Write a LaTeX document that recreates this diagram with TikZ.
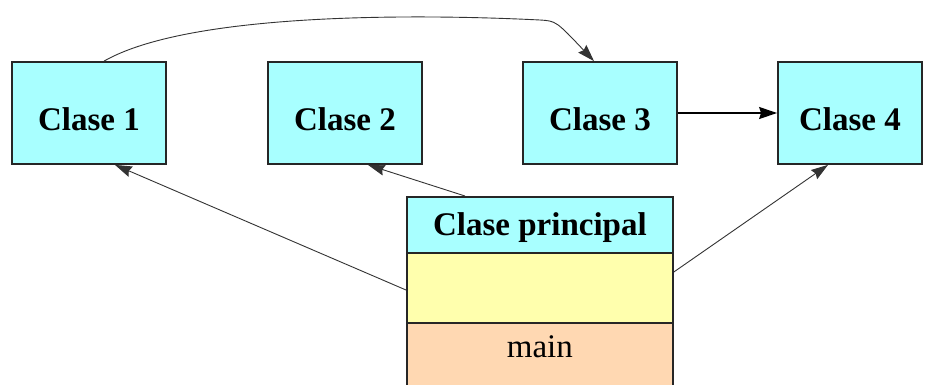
\documentclass[tikz,border=0pt]{standalone}
\usepackage{fontspec}
\setmainfont{Liberation Serif}
\usetikzlibrary{arrows.meta}
\definecolor{classcyan}{HTML}{A8FFFF}
\definecolor{attryellow}{HTML}{FFFFAD}
\definecolor{methodorange}{HTML}{FFD8B2}
\definecolor{edgegray}{HTML}{333333}
\tikzset{
  classbox/.style={draw=black!85, line width=1.8pt, fill=classcyan,
    minimum width=154pt, minimum height=102pt, inner sep=0pt,
    text height=35pt, text depth=0pt,
    font=\fontsize{33}{36}\selectfont\bfseries},
  part/.style={draw=black!85, line width=1.8pt, inner sep=0pt,
    minimum width=266pt, anchor=north west},
  link/.style={draw=edgegray, line width=0.9pt,
    -{Stealth[length=17pt,width=11pt,inset=2pt]}},
  strong link/.style={draw=black, line width=1.6pt,
    -{Stealth[length=18pt,width=12pt,inset=2pt]}}
}
\begin{document}
\begin{tikzpicture}[x=1pt,y=-1pt]
  \useasboundingbox (0,0) rectangle (925,384);
  \clip (0,0) rectangle (925,384);
  \fill[white] (0,0) rectangle (925,384);

  % the four collaborating classes
  \node[classbox] (c1) at (89,113) {Clase 1};
  \node[classbox] (c2) at (345,113) {Clase 2};
  \node[classbox] (c3) at (600,113) {Clase 3};
  \node[classbox, minimum width=144pt] (c4) at (850,113) {Clase 4};

  % main class: name, attributes and methods compartments
  \node[part, fill=classcyan, minimum height=56pt, text height=22pt, text depth=0pt,
        font=\fontsize{33}{36}\selectfont\bfseries] (cpname) at (406,196) {Clase principal};
  \node[part, fill=attryellow, minimum height=70pt] (cpattr) at (406,252) {};
  \node[part, fill=methodorange, minimum height=80pt] (cpops) at (406,322) {};
  \node[font=\fontsize{33}{36}\selectfont, anchor=base] (mainop) at ([yshift=-35pt]cpops.north) {main};

  % dependencies
  \coordinate (bend) at (540,20);
  \draw[link] ([xshift=15pt]c1.north) .. controls (190,12) and (420,14) .. (bend)
              .. controls (556,21) .. ([xshift=-6pt]c3.north);
  \draw[strong link] (c3.east) -- (c4.west);
  \draw[link] ([yshift=-38pt]cpattr.north west) -- ([xshift=26pt]c1.south);
  \draw[link] ([xshift=59pt]cpname.north west) -- ([xshift=23pt]c2.south);
  \draw[link] ([yshift=-20pt]cpattr.north east) -- ([xshift=-22pt]c4.south);
\end{tikzpicture}
\end{document}
